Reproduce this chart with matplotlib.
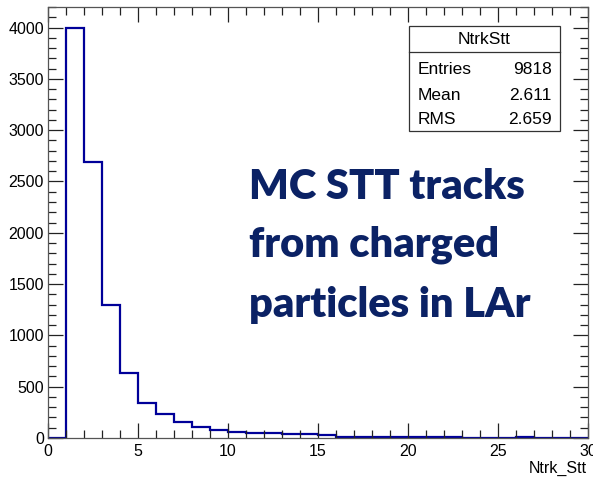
import matplotlib
matplotlib.use("Agg")
import matplotlib.pyplot as plt
from matplotlib.patches import Rectangle
from matplotlib.lines import Line2D
from matplotlib.ticker import MultipleLocator
import numpy as np

# Data
bin_edges = list(range(0, 31))
counts = [0, 4000, 2690, 1300, 630, 345, 235, 160, 105, 75,
          60, 50, 48, 40, 38, 25, 12, 10, 9, 8,
          6, 5, 5, 4, 4, 4, 10, 3, 3, 2]
x_label = "Ntrk_Stt"
stats_title = "NtrkStt"
stats_names = ["Entries", "Mean", "RMS"]
stats_values = ["9818", "2.611", "2.659"]
annotation_lines = ["MC STT tracks", "from charged", "particles in LAr"]

W, H = 593, 478
fig = plt.figure(figsize=(W / 100, H / 100), dpi=100)
plt.rcParams['font.family'] = ['Liberation Sans', 'DejaVu Sans']

def fx(x):
    return x / W

def fy(y):
    return 1 - y / H

ax_left, ax_right, ax_top, ax_bot = 48, 588, 7, 438
ax = fig.add_axes([fx(ax_left), fy(ax_bot), (ax_right - ax_left) / W, (ax_bot - ax_top) / H])

ax.stairs(counts, bin_edges, color="#000099", linewidth=1.6, baseline=0)
ax.set_xlim(0, 30)
ax.set_ylim(0, 4200)

ax.xaxis.set_major_locator(MultipleLocator(5))
ax.xaxis.set_minor_locator(MultipleLocator(1))
ax.yaxis.set_major_locator(MultipleLocator(500))
ax.yaxis.set_minor_locator(MultipleLocator(100))
ax.tick_params(which="both", direction="in", top=True, right=True,
               color="#222222", width=0.9)
ax.tick_params(which="major", length=11, labelsize=11.5)
ax.tick_params(which="minor", length=5.5)
ax.tick_params(axis="x", which="major", pad=4)
ax.tick_params(axis="y", which="major", pad=3)
for s in ax.spines.values():
    s.set_color("#555555")
    s.set_linewidth(0.9)

fig.text(fx(587), fy(468), x_label, ha="right", va="center", fontsize=11.5)

# Stats box
bl, br, bt, bd, bb = 409, 560, 26, 51.7, 131
fig.add_artist(Rectangle((fx(bl), fy(bb)), (br - bl) / W, (bb - bt) / H,
                         transform=fig.transFigure, fill=True, facecolor="white",
                         edgecolor="#333333", linewidth=0.9))
fig.add_artist(Line2D([fx(bl), fx(br)], [fy(bd), fy(bd)], transform=fig.transFigure,
                      color="#333333", linewidth=0.9))
fig.text(fx((bl + br) / 2), fy(40), stats_title, ha="center", va="center", fontsize=12.5)
row_y = [70, 95.5, 120]
for name, val, yy in zip(stats_names, stats_values, row_y):
    fig.text(fx(418), fy(yy), name, ha="left", va="center", fontsize=12.5)
    fig.text(fx(552), fy(yy), val, ha="right", va="center", fontsize=12.5)

baselines = [199, 257, 317]
for line, yb in zip(annotation_lines, baselines):
    fig.text(fx(249), fy(yb), line, ha="left", va="baseline",
             fontsize=30, fontweight="heavy", family=["Lato", "DejaVu Sans"],
             color="#0b2265")

fig.savefig("out.png", dpi=100)
